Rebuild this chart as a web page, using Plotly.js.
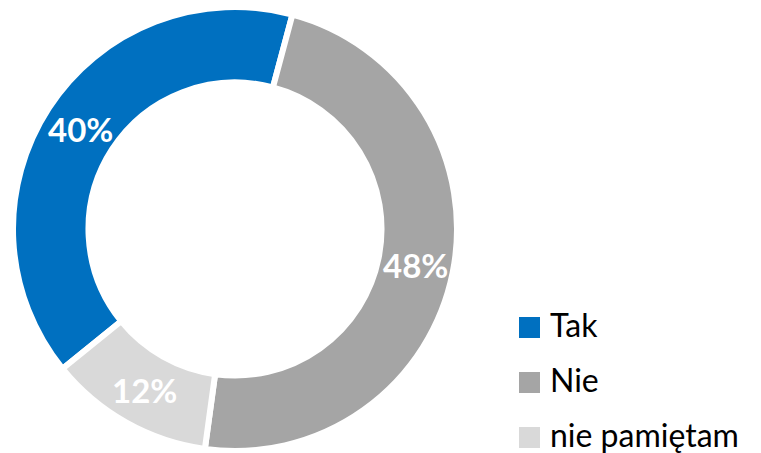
<!DOCTYPE html>
<html>
<head>
<meta charset="utf-8">
<script src="https://cdn.plot.ly/plotly-3.0.1.min.js"></script>
<style>html,body{margin:0;padding:0;background:#fff;}#chart{width:761px;height:453px;}</style>
</head>
<body>
<div id="chart"></div>
<script>
var labels = ["Tak", "Nie", "nie pamiętam"];
var values = [40, 48, 12];
var colors = ["#0070C0", "#A5A5A5", "#D9D9D9"];

var W = 761, H = 453;
var cx = 235, cy = 229, R = 222, HOLE = 0.66, ROT = 231;
var FONT = "Lato, 'Open Sans', sans-serif";

var trace = {
  type: "pie",
  labels: labels,
  values: values,
  sort: false,
  direction: "clockwise",
  rotation: ROT,
  hole: HOLE,
  marker: {colors: colors, line: {color: "#ffffff", width: 6}},
  textinfo: "none",
  domain: {x: [(cx - R) / W, (cx + R) / W], y: [1 - (cy + R) / H, 1 - (cy - R) / H]},
  hoverinfo: "none",
  showlegend: false
};

var shapes = [], annotations = [];

// percent labels at each slice's mid-angle on the ring's centre line
var total = values.reduce(function (a, b) { return a + b; }, 0);
var cum = 0, rMid = R * (1 + HOLE) / 2;
values.forEach(function (v, i) {
  var midDeg = ROT + 360 * (cum + v / 2) / total;
  cum += v;
  var a = midDeg * Math.PI / 180;
  var px = cx + rMid * Math.sin(a), py = cy - rMid * Math.cos(a);
  annotations.push({
    xref: "paper", yref: "paper", x: px / W, y: 1 - py / H,
    xanchor: "center", yanchor: "middle", showarrow: false, borderpad: 0,
    text: Math.round(100 * v / total) + "%",
    font: {family: FONT, size: 33, color: "#ffffff", weight: "bold"}
  });
});

// custom legend (larger squares than Plotly's fixed pie legend symbols)
var legX = 519, legY0 = 327.5, legGap = 55, sq = 21;
labels.forEach(function (lab, i) {
  var yc = legY0 + i * legGap;
  shapes.push({
    type: "rect", xref: "paper", yref: "paper",
    x0: legX / W, x1: (legX + sq) / W,
    y0: 1 - (yc + sq / 2) / H, y1: 1 - (yc - sq / 2) / H,
    fillcolor: colors[i], line: {width: 0}
  });
  annotations.push({
    xref: "paper", yref: "paper",
    x: (legX + sq + 9) / W, y: 1 - (yc - 3) / H,
    xanchor: "left", yanchor: "middle",
    text: lab, showarrow: false, borderpad: 0,
    font: {family: FONT, size: 32, color: "#000000"}
  });
});

var layout = {
  width: W, height: H,
  margin: {l: 0, r: 0, t: 0, b: 0},
  paper_bgcolor: "#ffffff",
  showlegend: false,
  shapes: shapes,
  annotations: annotations
};

Plotly.newPlot("chart", [trace], layout, {displayModeBar: false, staticPlot: true});
</script>
</body>
</html>
